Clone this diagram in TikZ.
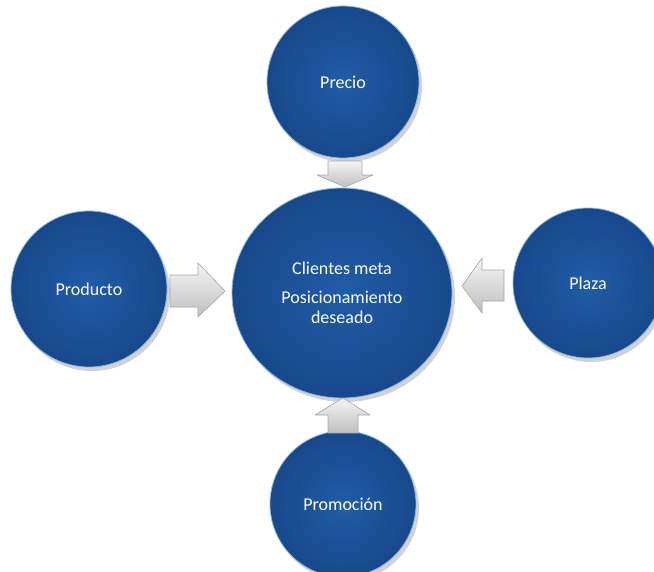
\documentclass[tikz,border=0pt]{standalone}
\usepackage{fontspec}
\setmainfont{Carlito}
\usetikzlibrary{shadows,shapes.geometric}
\definecolor{balldark}{RGB}{24,72,140}
\definecolor{balllight}{RGB}{32,92,166}
\definecolor{ballrim}{RGB}{140,185,230}
\begin{document}
\begin{tikzpicture}[x=1pt, y=-1pt,
		ball/.style={circle, inner sep=0pt, text=white, align=center,
			inner color=balllight, outer color=balldark, draw=ballrim, line width=0.8pt,
			drop shadow={opacity=0.35, shadow xshift=3pt, shadow yshift=-4pt},
			font=\fontsize{18}{20}\selectfont},
		blockarrow/.style={top color=gray!8, bottom color=gray!50, draw=gray!70, line width=0.6pt, line join=round}]
		\clip (0, 0) rectangle (654, 571);
		\fill[white] (0, 0) rectangle (654, 571);
		% circles
		\node[ball, ellipse, minimum width=220pt, minimum height=210pt] (centro) at (342, 293) {Clientes meta\\[9pt]Posicionamiento\\deseado};
		\node[ball, minimum size=152pt] (precio) at (343, 82) {Precio};
		\node[ball, minimum size=156pt] (producto) at (89, 289) {Producto};
		\node[ball, minimum size=150pt] (plaza) at (588, 283) {Plaza};
		\node[ball, minimum size=146pt] (promo) at (343, 504) {Promoción};
		% arrows
		\draw[blockarrow] (328, 161) -- (362, 161) -- (362, 175) -- (373, 175) -- (345, 187) -- (317, 175) -- (328, 175) -- cycle;
		\draw[blockarrow] (170, 275) -- (198, 275) -- (198, 263) -- (225, 291) -- (198, 317) -- (198, 307) -- (170, 307) -- cycle;
		\draw[blockarrow] (504, 270) -- (482, 270) -- (482, 258) -- (462, 286) -- (482, 313) -- (482, 301) -- (504, 301) -- cycle;
		\draw[blockarrow] (328, 433) -- (358, 433) -- (358, 415) -- (370, 415) -- (343, 398) -- (315, 415) -- (328, 415) -- cycle;
	\end{tikzpicture}
\end{document}
